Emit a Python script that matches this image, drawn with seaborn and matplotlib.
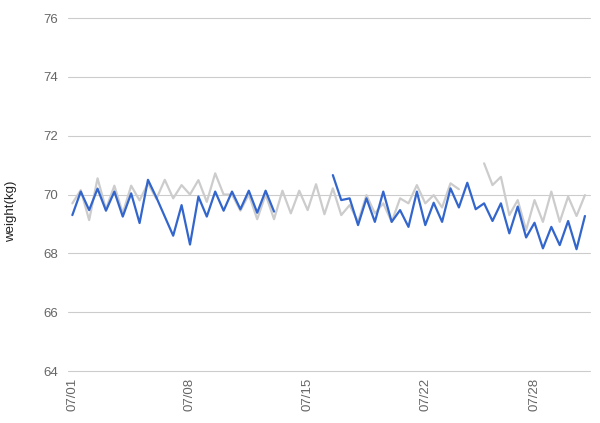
import numpy as np
import pandas as pd
import matplotlib
matplotlib.use("Agg")
import matplotlib.pyplot as plt
import seaborn as sns

# two readings a day, 07/01 .. 07/31 (62 points), NaN = no reading
nan = np.nan
blue_weight = [69.3, 70.1, 69.47, 70.2, 69.45, 70.1, 69.25, 70.04, 69.03, 70.5,
               69.9, 69.25, 68.6, 69.64, 68.3, 69.93, 69.25, 70.1, 69.45, 70.1,
               69.5, 70.13, 69.38, 70.13, 69.42, nan, nan, nan, nan, nan,
               nan, 70.66, 69.81, 69.87, 68.96, 69.87, 69.07, 70.1, 69.07, 69.47,
               68.9, 70.1, 68.96, 69.72, 69.07, 70.21, 69.56, 70.4, 69.5, 69.7,
               69.1, 69.7, 68.68, 69.59, 68.54, 69.04, 68.17, 68.9, 68.28, 69.1,
               68.14, 69.27]
gray_weight = [69.7, 70.15, 69.13, 70.55, 69.5, 70.3, 69.36, 70.3, 69.8, 70.38,
               69.85, 70.5, 69.87, 70.32, 70.0, 70.49, 69.75, 70.72, 70.0, 70.0,
               69.45, 70.0, 69.16, 70.0, 69.16, 70.13, 69.36, 70.13, 69.47, 70.35,
               69.33, 70.21, 69.3, 69.64, 69.07, 69.98, 69.36, 69.7, 69.07, 69.87,
               69.7, 70.32, 69.7, 69.98, 69.56, 70.38, 70.18, nan, nan, 71.06,
               70.32, 70.6, 69.3, 69.81, 68.79, 69.81, 69.07, 70.1, 69.07, 69.93,
               69.27, 69.98]
tick_pos = [0, 14, 28, 42, 55]
tick_labels = ['07/01', '07/08', '07/15', '07/22', '07/28']
y_ticks = [64, 66, 68, 70, 72, 74, 76]

rows = []
for name, vals in [('gray', gray_weight), ('blue', blue_weight)]:
    s = pd.Series(vals)
    seg = s.isna().cumsum()
    d = pd.DataFrame({'idx': range(len(vals)), 'weight': s, 'series': name, 'seg': seg})
    rows.append(d.dropna())
df = pd.concat(rows)
df['unit'] = df['series'] + df['seg'].astype(str)

sns.set_style('white')
plt.rcParams['font.family'] = ['Liberation Sans', 'DejaVu Sans']

fig = plt.figure(figsize=(6, 4.23), dpi=100)
ax = fig.add_axes([0.1133, 0.1229, 0.87, 0.8345])

sns.lineplot(data=df, x='idx', y='weight', hue='series', units='unit', estimator=None,
             palette={'gray': '#cccccc', 'blue': '#3366cc'}, hue_order=['gray', 'blue'],
             linewidth=1.6, legend=False, ax=ax)

ax.set_ylim(64, 76)
ax.set_xlim(-0.52, 61.6)
ax.set_yticks(y_ticks)
ax.set_yticklabels([str(v) for v in y_ticks])
ax.set_xticks(tick_pos)
ax.set_xticklabels(tick_labels, rotation=90)
ax.grid(axis='y', color='#cccccc', linewidth=0.8)
for gl in ax.get_ygridlines():
    gl.set_clip_on(False)
ax.set_axisbelow(True)
for sp in ax.spines.values():
    sp.set_visible(False)
ax.tick_params(axis='both', length=0, labelsize=9.5, labelcolor='#666666')
ax.tick_params(axis='y', pad=7)
ax.tick_params(axis='x', pad=5)
ax.set_xlabel('')
ax.set_ylabel('weight(kg)', fontsize=9.5, color='#222222')
ax.yaxis.set_label_coords(-0.098, 0.453)

fig.savefig('out.png', dpi=100)
